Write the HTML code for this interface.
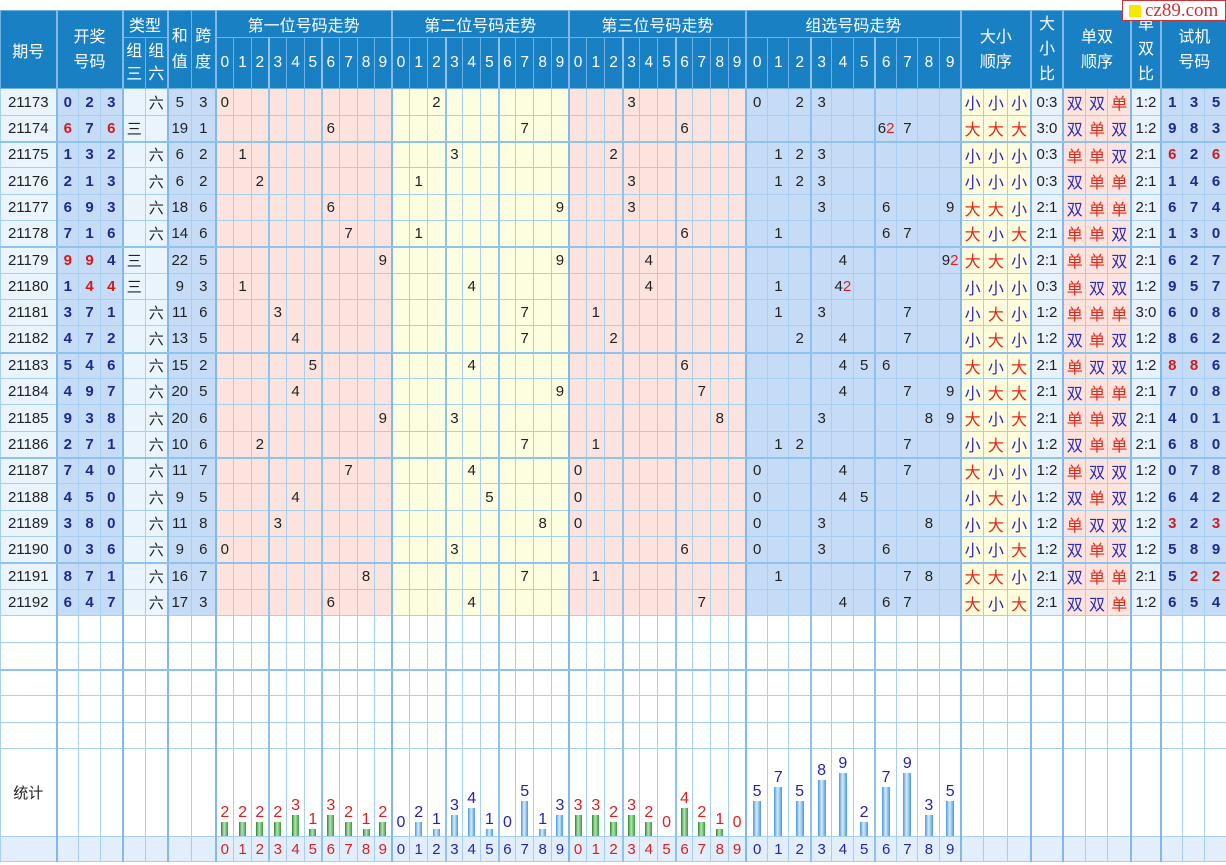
<!DOCTYPE html>
<html><head><meta charset="utf-8">
<style>
html,body{margin:0;padding:0;background:#fff;width:1226px;height:865px;overflow:hidden}
body{font-family:"Liberation Sans","Noto Sans CJK SC",sans-serif;position:relative}
table{position:absolute;left:0;top:10px;width:1226px;border-collapse:collapse;table-layout:fixed;font-size:15px;color:#222}
td,th{border:1px solid #a6cff1;padding:0;text-align:center;white-space:nowrap;overflow:hidden}
col.k{border-left:2px solid #80b9ea}
col.q{border-left:2px solid #8fc3ee}
thead tr{background:#1a80c4}
th{color:#fff;font-weight:normal;font-size:16px;border-color:#6fb2e6}
th.n{font-size:15.5px}
tr.a{height:27px}tr.b{height:26px}
tr.t td{border-bottom:2px solid #8fc3ee}
tbody tr.x td:nth-child(2),tbody tr.x td:nth-child(3),tbody tr.x td:nth-child(4),tbody tr.x td:nth-child(57),tbody tr.x td:nth-child(58),tbody tr.x td:nth-child(59){font-weight:bold;color:#1c2a8c}
tbody tr.x td.r{color:#d01c1c}
span.r{color:#e02020}
tbody tr.x td:nth-child(49),tbody tr.x td:nth-child(50),tbody tr.x td:nth-child(51),tbody tr.x td:nth-child(53),tbody tr.x td:nth-child(54),tbody tr.x td:nth-child(55){color:#2a2ab8;font-size:16px}
tbody tr.x td.R{color:#e0281a}
tr.w{background:#fff}
tr.s{height:88px;background:#fff}
tr.s td{vertical-align:bottom}
tr.l{height:25px;background:#e2eefb}
em{font-style:normal;display:block;line-height:19px;font-size:16px}
u{display:block;width:7px;margin:0 auto;text-decoration:none}
td.g em{color:#d82020}
td.g u{background:linear-gradient(90deg,#2a862a,#b8e4b8 45%,#3a9a3a)}
td.b em{color:#2424a8}
td.b u{background:linear-gradient(90deg,#4898de,#d8ecfb 45%,#4898de)}
td.z u{width:8px}
tr.l td.g{color:#d82020}tr.l td.b{color:#2424a8}
.wm{position:absolute;right:0;top:0;width:102px;height:19px;border:1px solid #c8333a;background:#fff;z-index:3;font-family:"Liberation Serif",serif;color:#c8333a;font-size:19px;line-height:19px}
.wm i{display:inline-block;width:12px;height:12px;background:#f5e800;margin:0 4px 0 6px;vertical-align:-1px}
</style></head><body>
<div class="wm"><i></i>cz89.com</div>
<table>
<colgroup>
<col style="width:56px;background:#eaf4fd">
<col class="k" style="width:22px;background:#c6dcf6"><col style="width:22px;background:#c6dcf6"><col style="width:22px;background:#c6dcf6">
<col class="k" style="width:23px;background:#eaf4fd"><col style="width:22px;background:#eaf4fd">
<col class="k" style="width:24px;background:#c6dcf6"><col style="width:24px;background:#c6dcf6">
</colgroup>
<colgroup style="background:#fde3de"><col class="k" style="width:18px"><col style="width:18px"><col style="width:17px"><col class="q" style="width:18px"><col style="width:18px"><col style="width:17px"><col class="q" style="width:18px"><col style="width:18px"><col style="width:17px"><col style="width:17px"></colgroup>
<colgroup style="background:#fdfddf"><col class="k" style="width:18px"><col style="width:18px"><col style="width:18px"><col class="q" style="width:17px"><col style="width:18px"><col style="width:18px"><col class="q" style="width:17px"><col style="width:18px"><col style="width:18px"><col style="width:17px"></colgroup>
<colgroup style="background:#fde3de"><col class="k" style="width:18px"><col style="width:18px"><col style="width:18px"><col class="q" style="width:17px"><col style="width:18px"><col style="width:18px"><col class="q" style="width:17px"><col style="width:18px"><col style="width:18px"><col style="width:17px"></colgroup>
<colgroup style="background:#c6dcf6"><col class="k" style="width:22px"><col style="width:21px"><col style="width:22px"><col class="q" style="width:21px"><col style="width:22px"><col style="width:21px"><col class="q" style="width:22px"><col style="width:21px"><col style="width:22px"><col style="width:21px"></colgroup>
<colgroup>
<col class="k" style="width:23px;background:#fefcdc"><col style="width:24px;background:#fefcdc"><col style="width:23px;background:#fefcdc">
<col class="k" style="width:32px;background:#e8f2fc">
<col class="k" style="width:23px;background:#fde3de"><col style="width:22px;background:#fde3de"><col style="width:23px;background:#fde3de">
<col class="k" style="width:30px;background:#e8f2fc">
<col class="k" style="width:22px;background:#c6dcf6"><col style="width:22px;background:#c6dcf6"><col style="width:22px;background:#c6dcf6">
</colgroup>
<thead>
<tr style="height:27px"><th rowspan="2">期号</th><th colspan="3" rowspan="2" style="line-height:25px">开奖<br>号码</th><th colspan="2">类型</th><th rowspan="2" style="line-height:26px">和<br>值</th><th rowspan="2" style="line-height:26px">跨<br>度</th><th colspan="10">第一位号码走势</th><th colspan="10">第二位号码走势</th><th colspan="10">第三位号码走势</th><th colspan="10">组选号码走势</th><th colspan="3" rowspan="2" style="line-height:25px">大小<br>顺序</th><th rowspan="2" style="line-height:25px">大<br>小<br>比</th><th colspan="3" rowspan="2" style="line-height:25px">单双<br>顺序</th><th rowspan="2" style="line-height:25px">单<br>双<br>比</th><th colspan="3" rowspan="2" style="line-height:25px">试机<br>号码</th></tr>
<tr style="height:51px"><th style="line-height:23px">组<br>三</th><th style="line-height:23px">组<br>六</th>
<th class="n">0</th><th class="n">1</th><th class="n">2</th><th class="n">3</th><th class="n">4</th><th class="n">5</th><th class="n">6</th><th class="n">7</th><th class="n">8</th><th class="n">9</th>
<th class="n">0</th><th class="n">1</th><th class="n">2</th><th class="n">3</th><th class="n">4</th><th class="n">5</th><th class="n">6</th><th class="n">7</th><th class="n">8</th><th class="n">9</th>
<th class="n">0</th><th class="n">1</th><th class="n">2</th><th class="n">3</th><th class="n">4</th><th class="n">5</th><th class="n">6</th><th class="n">7</th><th class="n">8</th><th class="n">9</th>
<th class="n">0</th><th class="n">1</th><th class="n">2</th><th class="n">3</th><th class="n">4</th><th class="n">5</th><th class="n">6</th><th class="n">7</th><th class="n">8</th><th class="n">9</th></tr>
</thead>
<tbody>
<tr class="x a"><td>21173<td>0<td>2<td>3<td><td>六<td>5<td>3
<td>0<td><td><td><td><td><td><td><td><td>
<td><td><td>2<td><td><td><td><td><td><td>
<td><td><td><td>3<td><td><td><td><td><td>
<td>0<td><td>2<td>3<td><td><td><td><td><td>
<td>小<td>小<td>小<td>0:3<td>双<td>双<td class="R">单<td>1:2<td>1<td>3<td>5</tr>
<tr class="x b t"><td>21174<td class="r">6<td>7<td class="r">6<td>三<td><td>19<td>1
<td><td><td><td><td><td><td>6<td><td><td>
<td><td><td><td><td><td><td><td>7<td><td>
<td><td><td><td><td><td><td>6<td><td><td>
<td><td><td><td><td><td><td>6<span class="r">2</span><td>7<td><td>
<td class="R">大<td class="R">大<td class="R">大<td>3:0<td>双<td class="R">单<td>双<td>1:2<td>9<td>8<td>3</tr>
<tr class="x b"><td>21175<td>1<td>3<td>2<td><td>六<td>6<td>2
<td><td>1<td><td><td><td><td><td><td><td>
<td><td><td><td>3<td><td><td><td><td><td>
<td><td><td>2<td><td><td><td><td><td><td>
<td><td>1<td>2<td>3<td><td><td><td><td><td>
<td>小<td>小<td>小<td>0:3<td class="R">单<td class="R">单<td>双<td>2:1<td class="r">6<td>2<td class="r">6</tr>
<tr class="x a"><td>21176<td>2<td>1<td>3<td><td>六<td>6<td>2
<td><td><td>2<td><td><td><td><td><td><td>
<td><td>1<td><td><td><td><td><td><td><td>
<td><td><td><td>3<td><td><td><td><td><td>
<td><td>1<td>2<td>3<td><td><td><td><td><td>
<td>小<td>小<td>小<td>0:3<td>双<td class="R">单<td class="R">单<td>2:1<td>1<td>4<td>6</tr>
<tr class="x b"><td>21177<td>6<td>9<td>3<td><td>六<td>18<td>6
<td><td><td><td><td><td><td>6<td><td><td>
<td><td><td><td><td><td><td><td><td><td>9
<td><td><td><td>3<td><td><td><td><td><td>
<td><td><td><td>3<td><td><td>6<td><td><td>9
<td class="R">大<td class="R">大<td>小<td>2:1<td>双<td class="R">单<td class="R">单<td>2:1<td>6<td>7<td>4</tr>
<tr class="x b t"><td>21178<td>7<td>1<td>6<td><td>六<td>14<td>6
<td><td><td><td><td><td><td><td>7<td><td>
<td><td>1<td><td><td><td><td><td><td><td>
<td><td><td><td><td><td><td>6<td><td><td>
<td><td>1<td><td><td><td><td>6<td>7<td><td>
<td class="R">大<td>小<td class="R">大<td>2:1<td class="R">单<td class="R">单<td>双<td>2:1<td>1<td>3<td>0</tr>
<tr class="x a"><td>21179<td class="r">9<td class="r">9<td>4<td>三<td><td>22<td>5
<td><td><td><td><td><td><td><td><td><td>9
<td><td><td><td><td><td><td><td><td><td>9
<td><td><td><td><td>4<td><td><td><td><td>
<td><td><td><td><td>4<td><td><td><td><td>9<span class="r">2</span>
<td class="R">大<td class="R">大<td>小<td>2:1<td class="R">单<td class="R">单<td>双<td>2:1<td>6<td>2<td>7</tr>
<tr class="x b"><td>21180<td>1<td class="r">4<td class="r">4<td>三<td><td>9<td>3
<td><td>1<td><td><td><td><td><td><td><td>
<td><td><td><td><td>4<td><td><td><td><td>
<td><td><td><td><td>4<td><td><td><td><td>
<td><td>1<td><td><td>4<span class="r">2</span><td><td><td><td><td>
<td>小<td>小<td>小<td>0:3<td class="R">单<td>双<td>双<td>1:2<td>9<td>5<td>7</tr>
<tr class="x b"><td>21181<td>3<td>7<td>1<td><td>六<td>11<td>6
<td><td><td><td>3<td><td><td><td><td><td>
<td><td><td><td><td><td><td><td>7<td><td>
<td><td>1<td><td><td><td><td><td><td><td>
<td><td>1<td><td>3<td><td><td><td>7<td><td>
<td>小<td class="R">大<td>小<td>1:2<td class="R">单<td class="R">单<td class="R">单<td>3:0<td>6<td>0<td>8</tr>
<tr class="x a t"><td>21182<td>4<td>7<td>2<td><td>六<td>13<td>5
<td><td><td><td><td>4<td><td><td><td><td>
<td><td><td><td><td><td><td><td>7<td><td>
<td><td><td>2<td><td><td><td><td><td><td>
<td><td><td>2<td><td>4<td><td><td>7<td><td>
<td>小<td class="R">大<td>小<td>1:2<td>双<td class="R">单<td>双<td>1:2<td>8<td>6<td>2</tr>
<tr class="x b"><td>21183<td>5<td>4<td>6<td><td>六<td>15<td>2
<td><td><td><td><td><td>5<td><td><td><td>
<td><td><td><td><td>4<td><td><td><td><td>
<td><td><td><td><td><td><td>6<td><td><td>
<td><td><td><td><td>4<td>5<td>6<td><td><td>
<td class="R">大<td>小<td class="R">大<td>2:1<td class="R">单<td>双<td>双<td>1:2<td class="r">8<td class="r">8<td>6</tr>
<tr class="x b"><td>21184<td>4<td>9<td>7<td><td>六<td>20<td>5
<td><td><td><td><td>4<td><td><td><td><td>
<td><td><td><td><td><td><td><td><td><td>9
<td><td><td><td><td><td><td><td>7<td><td>
<td><td><td><td><td>4<td><td><td>7<td><td>9
<td>小<td class="R">大<td class="R">大<td>2:1<td>双<td class="R">单<td class="R">单<td>2:1<td>7<td>0<td>8</tr>
<tr class="x a"><td>21185<td>9<td>3<td>8<td><td>六<td>20<td>6
<td><td><td><td><td><td><td><td><td><td>9
<td><td><td><td>3<td><td><td><td><td><td>
<td><td><td><td><td><td><td><td><td>8<td>
<td><td><td><td>3<td><td><td><td><td>8<td>9
<td class="R">大<td>小<td class="R">大<td>2:1<td class="R">单<td class="R">单<td>双<td>2:1<td>4<td>0<td>1</tr>
<tr class="x b t"><td>21186<td>2<td>7<td>1<td><td>六<td>10<td>6
<td><td><td>2<td><td><td><td><td><td><td>
<td><td><td><td><td><td><td><td>7<td><td>
<td><td>1<td><td><td><td><td><td><td><td>
<td><td>1<td>2<td><td><td><td><td>7<td><td>
<td>小<td class="R">大<td>小<td>1:2<td>双<td class="R">单<td class="R">单<td>2:1<td>6<td>8<td>0</tr>
<tr class="x b"><td>21187<td>7<td>4<td>0<td><td>六<td>11<td>7
<td><td><td><td><td><td><td><td>7<td><td>
<td><td><td><td><td>4<td><td><td><td><td>
<td>0<td><td><td><td><td><td><td><td><td>
<td>0<td><td><td><td>4<td><td><td>7<td><td>
<td class="R">大<td>小<td>小<td>1:2<td class="R">单<td>双<td>双<td>1:2<td>0<td>7<td>8</tr>
<tr class="x a"><td>21188<td>4<td>5<td>0<td><td>六<td>9<td>5
<td><td><td><td><td>4<td><td><td><td><td>
<td><td><td><td><td><td>5<td><td><td><td>
<td>0<td><td><td><td><td><td><td><td><td>
<td>0<td><td><td><td>4<td>5<td><td><td><td>
<td>小<td class="R">大<td>小<td>1:2<td>双<td class="R">单<td>双<td>1:2<td>6<td>4<td>2</tr>
<tr class="x b"><td>21189<td>3<td>8<td>0<td><td>六<td>11<td>8
<td><td><td><td>3<td><td><td><td><td><td>
<td><td><td><td><td><td><td><td><td>8<td>
<td>0<td><td><td><td><td><td><td><td><td>
<td>0<td><td><td>3<td><td><td><td><td>8<td>
<td>小<td class="R">大<td>小<td>1:2<td class="R">单<td>双<td>双<td>1:2<td class="r">3<td>2<td class="r">3</tr>
<tr class="x b t"><td>21190<td>0<td>3<td>6<td><td>六<td>9<td>6
<td>0<td><td><td><td><td><td><td><td><td>
<td><td><td><td>3<td><td><td><td><td><td>
<td><td><td><td><td><td><td>6<td><td><td>
<td>0<td><td><td>3<td><td><td>6<td><td><td>
<td>小<td>小<td class="R">大<td>1:2<td>双<td class="R">单<td>双<td>1:2<td>5<td>8<td>9</tr>
<tr class="x a"><td>21191<td>8<td>7<td>1<td><td>六<td>16<td>7
<td><td><td><td><td><td><td><td><td>8<td>
<td><td><td><td><td><td><td><td>7<td><td>
<td><td>1<td><td><td><td><td><td><td><td>
<td><td>1<td><td><td><td><td><td>7<td>8<td>
<td class="R">大<td class="R">大<td>小<td>2:1<td>双<td class="R">单<td class="R">单<td>2:1<td>5<td class="r">2<td class="r">2</tr>
<tr class="x b"><td>21192<td>6<td>4<td>7<td><td>六<td>17<td>3
<td><td><td><td><td><td><td>6<td><td><td>
<td><td><td><td><td>4<td><td><td><td><td>
<td><td><td><td><td><td><td><td>7<td><td>
<td><td><td><td><td>4<td><td>6<td>7<td><td>
<td class="R">大<td>小<td class="R">大<td>2:1<td>双<td>双<td class="R">单<td>1:2<td>6<td>5<td>4</tr>
<tr class="w a"><td><td><td><td><td><td><td><td><td><td><td><td><td><td><td><td><td><td><td><td><td><td><td><td><td><td><td><td><td><td><td><td><td><td><td><td><td><td><td><td><td><td><td><td><td><td><td><td><td><td><td><td><td><td><td><td><td><td><td><td></tr>
<tr class="w a t"><td><td><td><td><td><td><td><td><td><td><td><td><td><td><td><td><td><td><td><td><td><td><td><td><td><td><td><td><td><td><td><td><td><td><td><td><td><td><td><td><td><td><td><td><td><td><td><td><td><td><td><td><td><td><td><td><td><td><td><td></tr>
<tr class="w b"><td><td><td><td><td><td><td><td><td><td><td><td><td><td><td><td><td><td><td><td><td><td><td><td><td><td><td><td><td><td><td><td><td><td><td><td><td><td><td><td><td><td><td><td><td><td><td><td><td><td><td><td><td><td><td><td><td><td><td><td></tr>
<tr class="w a"><td><td><td><td><td><td><td><td><td><td><td><td><td><td><td><td><td><td><td><td><td><td><td><td><td><td><td><td><td><td><td><td><td><td><td><td><td><td><td><td><td><td><td><td><td><td><td><td><td><td><td><td><td><td><td><td><td><td><td><td></tr>
<tr class="w b"><td><td><td><td><td><td><td><td><td><td><td><td><td><td><td><td><td><td><td><td><td><td><td><td><td><td><td><td><td><td><td><td><td><td><td><td><td><td><td><td><td><td><td><td><td><td><td><td><td><td><td><td><td><td><td><td><td><td><td><td></tr>
<tr class="s"><td style="vertical-align:middle">统计<td><td><td><td><td><td><td>
<td class="g"><em>2</em><u style="height:14px"></u><td class="g"><em>2</em><u style="height:14px"></u><td class="g"><em>2</em><u style="height:14px"></u><td class="g"><em>2</em><u style="height:14px"></u><td class="g"><em>3</em><u style="height:21px"></u><td class="g"><em>1</em><u style="height:7px"></u><td class="g"><em>3</em><u style="height:21px"></u><td class="g"><em>2</em><u style="height:14px"></u><td class="g"><em>1</em><u style="height:7px"></u><td class="g"><em>2</em><u style="height:14px"></u>
<td class="b"><em>0</em><u style="height:4px;background:none"></u><td class="b"><em>2</em><u style="height:14px"></u><td class="b"><em>1</em><u style="height:7px"></u><td class="b"><em>3</em><u style="height:21px"></u><td class="b"><em>4</em><u style="height:28px"></u><td class="b"><em>1</em><u style="height:7px"></u><td class="b"><em>0</em><u style="height:4px;background:none"></u><td class="b"><em>5</em><u style="height:35px"></u><td class="b"><em>1</em><u style="height:7px"></u><td class="b"><em>3</em><u style="height:21px"></u>
<td class="g"><em>3</em><u style="height:21px"></u><td class="g"><em>3</em><u style="height:21px"></u><td class="g"><em>2</em><u style="height:14px"></u><td class="g"><em>3</em><u style="height:21px"></u><td class="g"><em>2</em><u style="height:14px"></u><td class="g"><em>0</em><u style="height:4px;background:none"></u><td class="g"><em>4</em><u style="height:28px"></u><td class="g"><em>2</em><u style="height:14px"></u><td class="g"><em>1</em><u style="height:7px"></u><td class="g"><em>0</em><u style="height:4px;background:none"></u>
<td class="b z"><em>5</em><u style="height:35px"></u><td class="b z"><em>7</em><u style="height:49px"></u><td class="b z"><em>5</em><u style="height:35px"></u><td class="b z"><em>8</em><u style="height:56px"></u><td class="b z"><em>9</em><u style="height:63px"></u><td class="b z"><em>2</em><u style="height:14px"></u><td class="b z"><em>7</em><u style="height:49px"></u><td class="b z"><em>9</em><u style="height:63px"></u><td class="b z"><em>3</em><u style="height:21px"></u><td class="b z"><em>5</em><u style="height:35px"></u>
<td><td><td><td><td><td><td><td><td><td><td><td></tr>
<tr class="l"><td><td><td><td><td><td><td><td>
<td class="g">0<td class="g">1<td class="g">2<td class="g">3<td class="g">4<td class="g">5<td class="g">6<td class="g">7<td class="g">8<td class="g">9
<td class="b">0<td class="b">1<td class="b">2<td class="b">3<td class="b">4<td class="b">5<td class="b">6<td class="b">7<td class="b">8<td class="b">9
<td class="g">0<td class="g">1<td class="g">2<td class="g">3<td class="g">4<td class="g">5<td class="g">6<td class="g">7<td class="g">8<td class="g">9
<td class="b">0<td class="b">1<td class="b">2<td class="b">3<td class="b">4<td class="b">5<td class="b">6<td class="b">7<td class="b">8<td class="b">9
<td><td><td><td><td><td><td><td><td><td><td><td></tr>
</tbody>
</table>
</body></html>
